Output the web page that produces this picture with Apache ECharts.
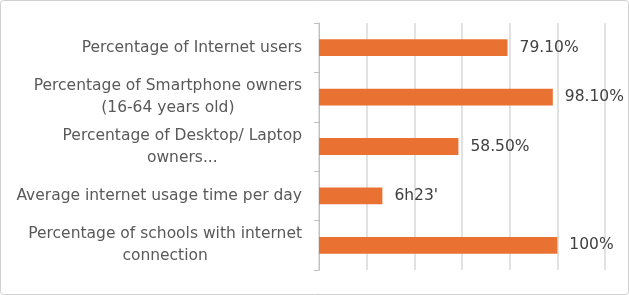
<!DOCTYPE html>
<html><head><meta charset="utf-8">
<script src="https://cdn.jsdelivr.net/npm/echarts@6/dist/echarts.min.js"></script>
<style>html,body{margin:0;padding:0;background:#fff}#c{width:629px;height:295px}</style>
</head><body><div id="c"></div>
<script>
const categories = [
  "Percentage of Internet users",
  "Percentage of Smartphone owners\n(16-64 years old)",
  "Percentage of Desktop/ Laptop\nowners...",
  "Average internet usage time per day",
  "Percentage of schools with internet\nconnection"
];
const values = [0.791, 0.981, 0.585, 0.266, 1.0];
const valueLabels = ["79.10%", "98.10%", "58.50%", "6h23'", "100%"];

const FONT = '"DejaVu Sans", sans-serif';
const FS = 15.5;
const ctx = document.createElement('canvas').getContext('2d');
ctx.font = FS + 'px ' + FONT;
function maxLineWidth(s) {
  return Math.max.apply(null, s.split('\n').map(l => ctx.measureText(l).width));
}
const yData = categories.map(c => {
  const w = maxLineWidth(c);
  return {value: c, textStyle: {align: 'center', padding: [2, w, 0, 0]}};
});

const chart = echarts.init(document.getElementById('c'), null, {renderer: 'canvas'});
chart.setOption({
  animation: false,
  backgroundColor: '#ffffff',
  textStyle: {fontFamily: FONT},
  grid: {left: 319, right: 24, top: 23, bottom: 25, containLabel: false},
  graphic: [{
    type: 'rect', shape: {x: 0.5, y: 0.5, width: 628, height: 294, r: 3},
    style: {fill: 'none', stroke: '#D0D0D0', lineWidth: 1}, silent: true
  }],
  xAxis: {
    type: 'value', min: 0, max: 1.2, interval: 0.2,
    axisLabel: {show: false}, axisLine: {show: false}, axisTick: {show: false},
    splitLine: {show: true, lineStyle: {color: '#D9D9D9', width: 1.5}}
  },
  yAxis: {
    type: 'category', data: yData, inverse: true,
    axisLine: {show: true, lineStyle: {color: '#BFBFBF', width: 1}},
    axisTick: {show: true, length: 5, lineStyle: {color: '#BFBFBF'}},
    axisLabel: {color: '#595959', fontSize: FS, fontFamily: FONT, margin: 17, lineHeight: 22}
  },
  series: [{
    type: 'bar', data: values, barCategoryGap: '66%',
    itemStyle: {color: '#E97132'},
    label: {
      show: true, position: 'right', distance: 12, color: '#404040', fontSize: FS, fontFamily: FONT,
      formatter: p => valueLabels[p.dataIndex]
    }
  }]
});
</script></body></html>
